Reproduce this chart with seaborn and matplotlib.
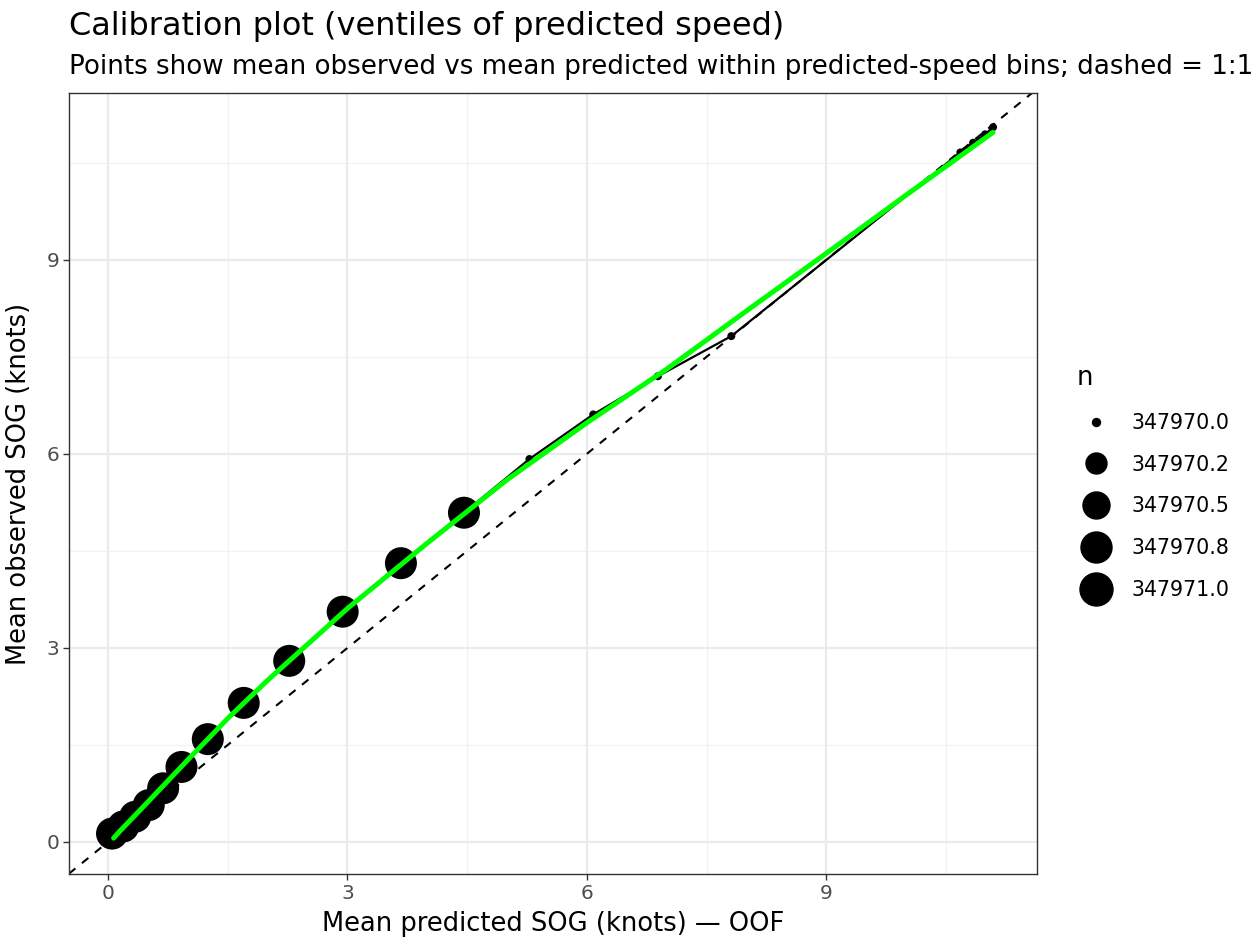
import numpy as np
import pandas as pd
import matplotlib
matplotlib.use("Agg")
import matplotlib.pyplot as plt
from matplotlib.lines import Line2D
import seaborn as sns

# ventile means
pred_mean = [0.05, 0.19, 0.34, 0.51, 0.69, 0.92, 1.25, 1.70, 2.27, 2.94,
             3.67, 4.46, 5.28, 6.08, 6.89, 7.81, 10.68, 10.84, 10.99, 11.09]
obs_mean = [0.13, 0.24, 0.39, 0.57, 0.83, 1.16, 1.59, 2.15, 2.80, 3.56,
            4.31, 5.09, 5.92, 6.61, 7.20, 7.82, 10.66, 10.81, 10.94, 11.05]
n_obs = [347971] * 12 + [347970] * 8

# smoothed calibration curve (green)
smooth_x = [0.07, 0.15, 0.5, 1.0, 1.5, 2.0, 3.0, 4.0, 5.0, 6.0, 7.0, 8.0, 9.0, 10.0, 11.09]
smooth_y = [0.06, 0.17, 0.62, 1.27, 1.91, 2.50, 3.61, 4.62, 5.60, 6.48, 7.31, 8.21, 9.10, 10.0, 10.97]

legend_labels = ["347970.0", "347970.2", "347970.5", "347970.8", "347971.0"]
ticks = [0, 3, 6, 9]

df = pd.DataFrame({"pred": pred_mean, "obs": obs_mean, "n": n_obs})
sm = pd.DataFrame({"x": smooth_x, "y": smooth_y})

sns.set_theme(style="white")
plt.rcParams["font.family"] = ["DejaVu Sans"]
plt.rcParams["text.color"] = "black"
plt.rcParams["axes.labelcolor"] = "black"

fig = plt.figure(figsize=(12.58, 9.5), dpi=100)
ax = fig.add_axes([0.0548, 0.080, 0.7695, 0.8222])

ax.set_xlim(-0.49, 11.64)
ax.set_ylim(-0.495, 11.58)

# grid like theme_bw
for v in [1.5, 4.5, 7.5, 10.5]:
    ax.axvline(v, color="#F2F2F2", lw=0.9, zorder=0)
    ax.axhline(v, color="#F2F2F2", lw=0.9, zorder=0)
for v in ticks:
    ax.axvline(v, color="#EBEBEB", lw=1.6, zorder=0)
    ax.axhline(v, color="#EBEBEB", lw=1.6, zorder=0)

# 1:1 reference
ax.axline((0, 0), slope=1, color="black", lw=1.5, ls=(0, (4, 4)), zorder=1)

def d2s(d_px):
    return (d_px * 72 / 100) ** 2

sns.scatterplot(data=df, x="pred", y="obs", size="n", sizes=(d2s(8), d2s(32)),
                color="black", edgecolor="none", legend=False, ax=ax, zorder=2)
sns.lineplot(data=df, x="pred", y="obs", color="black", lw=1.6, sort=True,
             estimator=None, ax=ax, zorder=3)
sns.lineplot(data=sm, x="x", y="y", color="#00FF00", lw=3.6, estimator=None,
             ax=ax, zorder=4)

ax.set_xticks(ticks)
ax.set_yticks(ticks)
ax.set_xticklabels([str(t) for t in ticks], fontsize=14.5, color="#4D4D4D")
ax.set_yticklabels([str(t) for t in ticks], fontsize=14.5, color="#4D4D4D")
ax.tick_params(axis="both", length=4, width=1, color="#333333", pad=3,
               bottom=True, left=True)
for s in ax.spines.values():
    s.set_color("#333333")
    s.set_linewidth(1.0)

ax.set_xlabel("Mean predicted SOG (knots) — OOF", fontsize=18.5, labelpad=6)
ax.set_ylabel("Mean observed SOG (knots)", fontsize=18.5, labelpad=10)

fig.text(0.0548, 0.963, "Calibration plot (ventiles of predicted speed)",
         fontsize=23, ha="left", va="baseline")
fig.text(0.0548, 0.922, "Points show mean observed vs mean predicted within predicted-speed bins; dashed = 1:1",
         fontsize=18.8, ha="left", va="baseline")

leg_d = [8, 21, 27, 31, 33]
handles = [Line2D([], [], marker="o", ls="none", color="black",
                  markersize=d * 72 / 100) for d in leg_d]
leg = fig.legend(handles, legend_labels, title="n", loc="upper left",
                 bbox_to_anchor=(0.844, 0.631), frameon=False, fontsize=14.8,
                 title_fontsize=18.5, labelspacing=1.06, handletextpad=0.73,
                 borderpad=0.2, handlelength=1.95)
leg._legend_box.align = "left"

fig.savefig("out.png", dpi=100)
